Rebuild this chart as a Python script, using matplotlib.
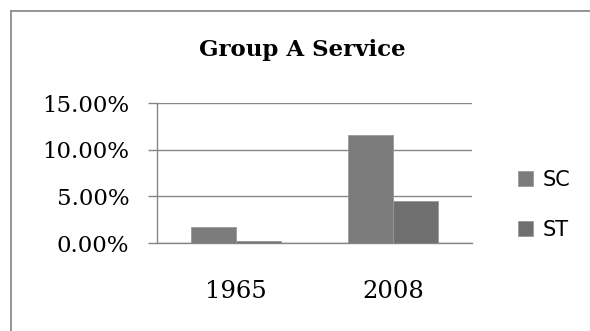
import matplotlib
matplotlib.use("Agg")
import matplotlib.pyplot as plt
from matplotlib.lines import Line2D
from matplotlib.ticker import PercentFormatter
import numpy as np

years = ["1965", "2008"]
sc = [1.75, 11.55]   # %
st = [0.2, 4.55]     # %
yticks = [0, 5, 10, 15]

grid_col = "#868686"
sc_col = "#7b7b7b"
st_col = "#6f6f6f"

fig = plt.figure(figsize=(5.9, 3.31), dpi=100)
W, H = 590, 331
# plot area in pixels: x 157..472, y 103..243
ax = fig.add_axes([157 / W, (H - 243) / H, (472 - 157) / W, (243 - 103) / H])

x = np.arange(len(years))
bw = 0.286
b1 = ax.bar(x - bw / 2, np.array(sc) / 100, bw, color=sc_col, edgecolor="#999999",
            linewidth=0.6, label="SC", zorder=3)
b2 = ax.bar(x + bw / 2, np.array(st) / 100, bw, color=st_col, edgecolor="#999999",
            linewidth=0.6, label="ST", zorder=3)

ax.set_xlim(-0.5, 1.5)
ax.set_ylim(0, 0.15)
ax.set_yticks(np.array(yticks) / 100)
ax.yaxis.set_major_formatter(PercentFormatter(1.0, decimals=2))
ax.set_xticks(x)
ax.set_xticklabels(years)

for s in ["top", "right"]:
    ax.spines[s].set_visible(False)
for s in ["left", "bottom"]:
    ax.spines[s].set_color(grid_col)
    ax.spines[s].set_linewidth(1.0)
ax.yaxis.grid(True, color=grid_col, linewidth=1.0, zorder=0)
ax.set_axisbelow(True)
ax.tick_params(axis="y", length=6.5, width=1.0, color=grid_col, pad=13.5,
               labelsize=16.5)
ax.tick_params(axis="x", length=0, pad=27, labelsize=17.5)
for lab in ax.get_yticklabels() + ax.get_xticklabels():
    lab.set_family("DejaVu Serif")

fig.text(302 / W, 1 - 50 / H, "Group A Service", ha="center", va="center",
         family="DejaVu Serif", fontweight="bold", fontsize=16.5)

fig.legend(handles=[b1, b2], loc="center left", bbox_to_anchor=(518 / W, 1 - 205 / H),
           frameon=False, fontsize=15, handlelength=0.72, handleheight=0.72,
           handletextpad=0.45, labelspacing=1.45, borderpad=0, borderaxespad=0)

# chart frame (left and top edges)
fig.add_artist(Line2D([10.5 / W, 10.5 / W], [0, 1 - 11 / H], color="#8c8c8c",
                      linewidth=1.3, transform=fig.transFigure))
fig.add_artist(Line2D([10.5 / W, 1], [1 - 11 / H, 1 - 11 / H], color="#8c8c8c",
                      linewidth=1.3, transform=fig.transFigure))

fig.savefig("out.png", dpi=100)
